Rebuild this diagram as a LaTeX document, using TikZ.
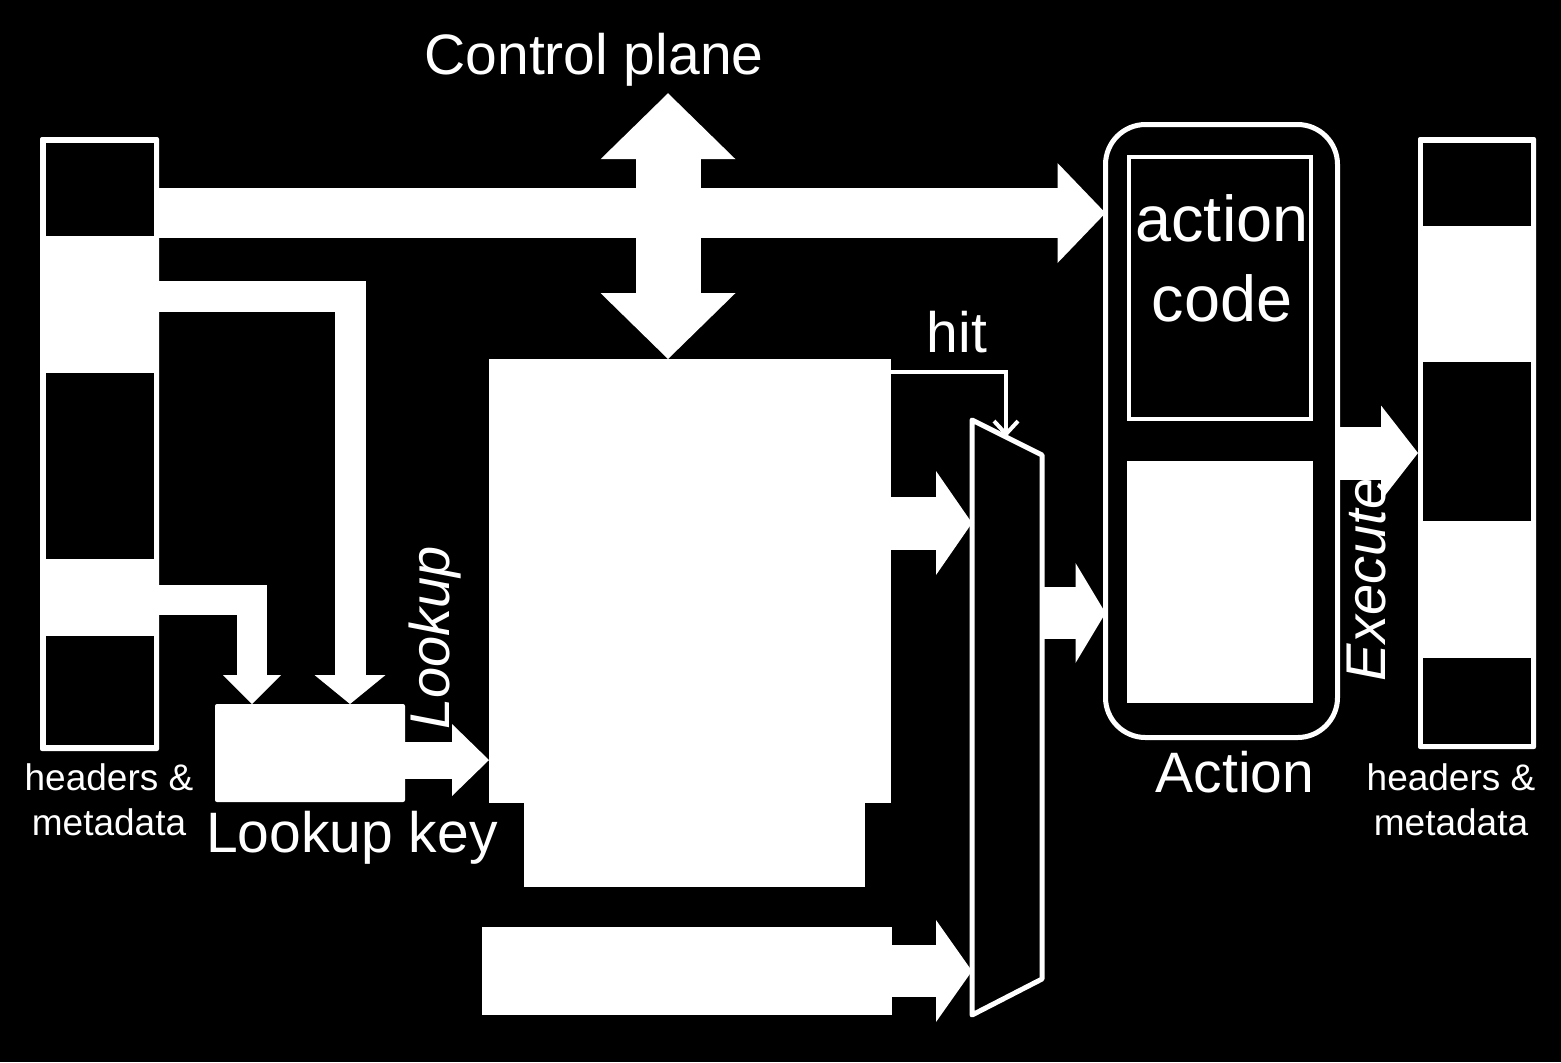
\documentclass[tikz,border=0pt]{standalone}
\usepackage{fontspec}
\setmainfont{Liberation Sans}
\usepackage{tikz}
\usetikzlibrary{arrows.meta}

\begin{document}
\begin{tikzpicture}[x=0.5pt, y=-0.5pt,
    box/.style={shape=rectangle, fill=white, inner sep=0pt, outer sep=0pt},
    cell/.style={shape=rectangle, fill=black, inner sep=0pt, outer sep=0pt, minimum width=54pt},
    frame/.style={shape=rectangle, draw=white, inner sep=0pt, outer sep=0pt},
    txt/.style={text=white, inner sep=0pt, font=\fontsize{28.5}{34}\selectfont},
    small/.style={text=white, inner sep=0pt, align=center, font=\fontsize{18.5}{22.5}\selectfont},
    blk/.style n args={3}{draw=white, line width=#1, line join=miter,
      -{Triangle[length=#2, width=#3, line width=0pt]}}]
    \useasboundingbox (0,0) rectangle (1561,1062);
    \fill[black] (0,0) rectangle (1561,1062);
    \node[box, rounded corners=1pt, minimum width=59.5pt, minimum height=307pt] (pktIn) at (99.5,444) {};
    \node[cell, minimum height=46.5pt] (in1) at (100,189.5) {};
    \node[cell, minimum height=93pt] (in2) at (100,466) {};
    \node[cell, minimum height=54.5pt] (in3) at (100,690.5) {};
    \node[small] (inlbl) at (109,800) {headers \&\\metadata};
    \node[box, rounded corners=1pt, minimum width=59pt, minimum height=306pt] (pktOut) at (1477,443) {};
    \node[cell, minimum height=41.5pt] (out1) at (1477,184.5) {};
    \node[cell, minimum height=79.5pt] (out2) at (1477,441.5) {};
    \node[cell, minimum height=43pt] (out3) at (1477,701) {};
    \node[small] (outlbl) at (1451,800) {headers \&\\metadata};
    \node[box, rounded corners=1pt, minimum width=95pt, minimum height=49pt] (key) at (310,753) {};
    \node[txt, anchor=base] (keylbl) at (352,852) {Lookup key};
    \node[box, minimum width=201pt, minimum height=222pt] (table) at (690,581) {};
    \node[box, minimum width=170.5pt, minimum height=42pt] (tblfoot) at (694.5,845) {};
    \node[box, minimum width=205pt, minimum height=44pt] (dflt) at (687,971) {};
    \node[txt, anchor=base, inner sep=3.5pt] (ctrl) at (594,74) {Control plane};
    \node[frame, line width=2.5pt, rounded corners=20pt, minimum width=116pt, minimum height=306.5pt] (action) at (1221.5,431) {};
    \node[frame, line width=2pt, minimum width=91pt, minimum height=131pt] (code) at (1220,288) {};
    \node[box, minimum width=93pt, minimum height=121pt] (params) at (1220,582) {};
    \node[txt, align=center, font=\fontsize{32.4}{40}\selectfont] (codetxt) at (1222,258) {action\\code};
    \node[txt, anchor=base] (actlbl) at (1235,792) {Action};
    \coordinate (muxTL) at (972,420);
    \coordinate (muxTR) at (1042,455);
    \coordinate (muxBR) at (1042,979);
    \coordinate (muxBL) at (972,1015);
    \coordinate (hit) at (1006,437);
    \coordinate (cp) at ([xshift=-11pt]table.north);
    \draw[white, line width=2.5pt, line join=round] (muxTL) -- (muxTR) -- (muxBR) -- (muxBL) -- cycle;
    \draw[white, line width=2pt, -{Straight Barb[length=6.5pt, width=12pt]}] (table.east |- 0,372) -| (hit);
    \node[txt, anchor=base] (hitlbl) at (957,352) {hit};
    \node[txt, rotate=90, font=\fontsize{28}{34}\selectfont\itshape] (lookup) at (435,638) {Lookup};
    \node[txt, rotate=90, font=\fontsize{28}{34}\selectfont\itshape] (exec) at (1366,580) {Execute};
    \draw[blk={25pt}{24pt}{50pt}] (pktIn.east |- 0,213) -- (action.west |- 0,213);
    \draw[blk={15.5pt}{14.5pt}{35.5pt}] (pktIn.east |- 0,296) -| (key.north -| 350,0);
    \draw[blk={15pt}{14.5pt}{29pt}] (pktIn.east |- 0,600) -| (key.north -| 252,0);
    \draw[blk={18.5pt}{18.5pt}{36pt}] (key.east |- 0,760) -- (table.west |- 0,760);
    \draw[blk={26.5pt}{18pt}{52pt}] (table.east |- 0,523) -- (muxTL |- 0,523);
    \draw[blk={26pt}{18pt}{51pt}] (dflt.east) -- (dflt.east -| muxBL);
    \draw[blk={26pt}{15pt}{50pt}] (muxTR |- 0,613) -- (action.west |- 0,613);
    \draw[blk={26.5pt}{18.5pt}{47.5pt}] (action.east |- 0,453) -- (pktOut.west |- 0,453);
    \draw[blk={32.5pt}{33pt}{67.5pt}, {Triangle[length=33pt, width=67.5pt, line width=0pt]}-{Triangle[length=33pt, width=67.5pt, line width=0pt]}] (cp |- ctrl.south) -- (cp);
  \end{tikzpicture}
\end{document}
